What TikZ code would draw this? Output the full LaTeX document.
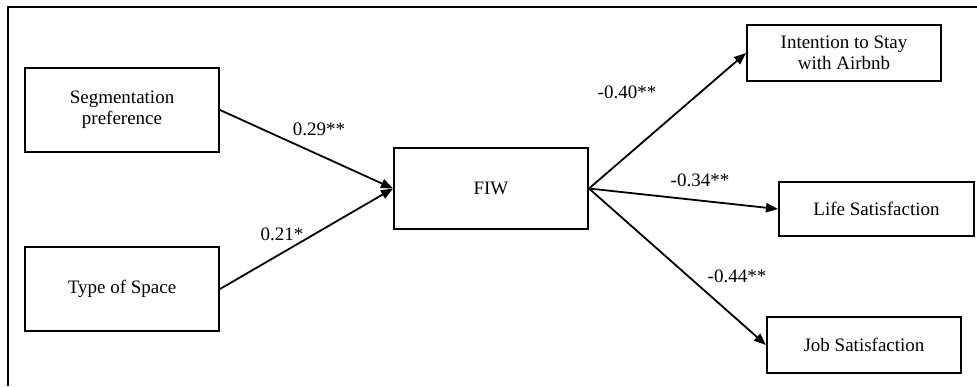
\documentclass[tikz,border=0pt]{standalone}
\usepackage{fontspec}
\setmainfont{Liberation Serif}
\usetikzlibrary{arrows.meta}
\begin{document}
\begin{tikzpicture}[x=0.5pt,y=-0.5pt,
  box/.style={draw, line width=1pt, rectangle, align=center, inner sep=0pt,
    font=\fontsize{9.5}{10.5}\selectfont},
  link/.style={line width=0.9pt, -{Triangle[length=6pt,width=4.6pt]}},
  lab/.style={font=\fontsize{9.5}{10.5}\selectfont, inner sep=0pt}]
\useasboundingbox (0,0) rectangle (977,386);
\draw[line width=0.9pt] (8,386) -- (8,7) -- (977,7);
\node[box, minimum width=97pt, minimum height=42pt] (seg) at (122,110) {Segmentation\\preference};
\node[box, minimum width=97pt, minimum height=42pt] (type) at (122,289) {Type of Space};
\node[box, minimum width=97pt, minimum height=40.5pt] (fiw) at (491,188.5) {FIW};
\node[box, minimum width=97pt, minimum height=28pt] (int) at (844,53) {Intention to Stay\\with Airbnb};
\node[box, minimum width=97.5pt, minimum height=27pt] (life) at (876.5,209) {Life Satisfaction};
\node[box, minimum width=97pt, minimum height=28pt] (job) at (864,345) {Job Satisfaction};
\draw[link] (seg.east) -- (fiw.west);
\draw[link] (type.east) -- (fiw.west);
\draw[link] (fiw.east) -- (int.west);
\draw[link] (fiw.east) -- (life.west);
\draw[link] (fiw.east) -- (job.west);
\node[lab] (l1) at (319,129) {0.29**};
\node[lab] (l2) at (282,234) {0.21*};
\node[lab] (l3) at (627,92) {-0.40**};
\node[lab] (l4) at (700,180) {-0.34**};
\node[lab] (l5) at (737,276) {-0.44**};
\end{tikzpicture}
\end{document}
